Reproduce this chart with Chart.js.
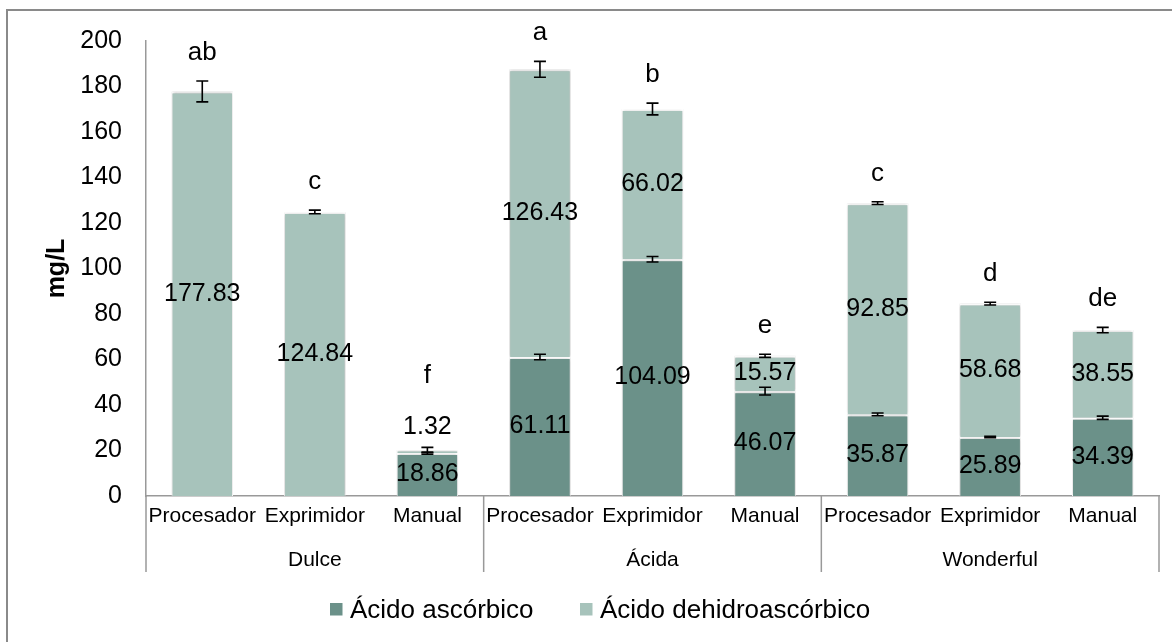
<!DOCTYPE html>
<html>
<head>
<meta charset="utf-8">
<script src="https://cdn.jsdelivr.net/npm/chart.js@4.4.1/dist/chart.umd.min.js"></script>
<style>
  html, body { margin: 0; padding: 0; background: #fff; }
  #c { display: block; }
</style>
</head>
<body>
<canvas id="c" width="1172" height="642"></canvas>
<script>
// Vitamin C content of pomegranate juices by variety and extraction method
const varieties = ['Dulce', 'Ácida', 'Wonderful'];
const methods = ['Procesador', 'Exprimidor', 'Manual'];
const seriesNames = ['Ácido ascórbico', 'Ácido dehidroascórbico'];

// mg/L, one value per variety × method
const ascorbic = [0, 0, 18.86, 61.11, 104.09, 46.07, 35.87, 25.89, 34.39];
const dehydroascorbic = [177.83, 124.84, 1.32, 126.43, 66.02, 15.57, 92.85, 58.68, 38.55];

// standard deviations: of ascorbic acid and of the total
const ascorbicErr = [0, 0, 0.5, 1.2, 1.2, 1.7, 0.6, 0.3, 0.7];
const totalErr = [4.6, 0.8, 1.2, 3.5, 2.6, 0.7, 0.6, 0.6, 1.2];

// significance groups (Tukey)
const letters = ['ab', 'c', 'f', 'a', 'b', 'e', 'c', 'd', 'de'];

const yMin = 0, yMax = 200, yStep = 20;

const labels = varieties.flatMap(() => methods);
const colors = ['#6b9189', '#a7c3bb'];
const FONT = '"Liberation Sans", Arial, sans-serif';

// frame + white background
const framePlugin = {
  id: 'frame',
  beforeDraw(chart) {
    const ctx = chart.ctx;
    ctx.save();
    ctx.fillStyle = '#fff';
    ctx.fillRect(0, 0, chart.width, chart.height);
    ctx.strokeStyle = '#8a8a8a';
    ctx.lineWidth = 2;
    ctx.beginPath();
    ctx.moveTo(7, chart.height);
    ctx.lineTo(7, 10);
    ctx.lineTo(chart.width, 10);
    ctx.stroke();
    ctx.restore();
  }
};

// soft shadow behind the bars
const shadowPlugin = {
  id: 'barShadow',
  beforeDatasetsDraw(chart) {
    const ctx = chart.ctx;
    ctx.save();
    ctx.shadowColor = 'rgba(0,0,0,0.28)';
    ctx.shadowBlur = 3;
  },
  afterDatasetsDraw(chart) {
    chart.ctx.restore();
  }
};

// value labels, error bars and significance letters
const annotatePlugin = {
  id: 'annotate',
  afterDatasetsDraw(chart) {
    const ctx = chart.ctx;
    const x = chart.scales.x, y = chart.scales.y;
    const raised = [];
    ctx.save();

    // value labels centred in each segment
    ctx.fillStyle = '#000';
    ctx.font = '25px ' + FONT;
    ctx.textAlign = 'center';
    ctx.textBaseline = 'middle';
    const series = [ascorbic, dehydroascorbic];
    for (let i = 0; i < labels.length; i++) {
      let base = 0;
      series.forEach(vals => {
        const v = vals[i];
        if (v > 0) {
          const y0 = y.getPixelForValue(base), y1 = y.getPixelForValue(base + v);
          const px = x.getPixelForValue(i);
          if (y0 - y1 < 20) {
            const ly = y1 - 23;
            ctx.fillText(v.toFixed(2), px, ly);
            raised[i] = ly;
          } else {
            ctx.fillText(v.toFixed(2), px, (y0 + y1) / 2);
          }
        }
        base += v;
      });
    }

    // error bars
    ctx.strokeStyle = '#000';
    ctx.lineWidth = 1.6;
    const cap = 6;
    const errBar = (px, v, e) => {
      const yt = y.getPixelForValue(v + e), yb = y.getPixelForValue(v - e);
      ctx.beginPath();
      ctx.moveTo(px, yt); ctx.lineTo(px, yb);
      ctx.moveTo(px - cap, yt); ctx.lineTo(px + cap, yt);
      ctx.moveTo(px - cap, yb); ctx.lineTo(px + cap, yb);
      ctx.stroke();
    };
    for (let i = 0; i < labels.length; i++) {
      const px = x.getPixelForValue(i);
      if (ascorbic[i] > 0) errBar(px, ascorbic[i], ascorbicErr[i]);
      errBar(px, ascorbic[i] + dehydroascorbic[i], totalErr[i]);
    }

    // significance letters above each column
    ctx.font = '26px ' + FONT;
    ctx.textBaseline = 'alphabetic';
    for (let i = 0; i < labels.length; i++) {
      const px = x.getPixelForValue(i);
      let by = y.getPixelForValue(ascorbic[i] + dehydroascorbic[i] + totalErr[i]) - 21;
      if (raised[i] !== undefined) by = Math.min(by, raised[i] - 44);
      ctx.fillText(letters[i], px, by);
    }
    ctx.restore();
  },
  afterDraw(chart) {
    const ctx = chart.ctx;
    const x = chart.scales.x;
    const axisY = chart.chartArea.bottom;
    ctx.save();

    // group separators and variety names under the method labels
    ctx.strokeStyle = '#999';
    ctx.lineWidth = 1.5;
    ctx.beginPath();
    for (let g = 0; g <= varieties.length; g++) {
      const px = x.getPixelForValue(g * methods.length - 0.5);
      ctx.moveTo(px, axisY);
      ctx.lineTo(px, axisY + 76);
    }
    ctx.stroke();
    ctx.fillStyle = '#000';
    ctx.font = '21px ' + FONT;
    ctx.textAlign = 'center';
    ctx.textBaseline = 'middle';
    varieties.forEach((v, g) => {
      ctx.fillText(v, x.getPixelForValue(g * methods.length + 1), axisY + 64);
    });

    // y axis title
    ctx.save();
    ctx.translate(57, (chart.chartArea.top + chart.chartArea.bottom) / 2);
    ctx.rotate(-Math.PI / 2);
    ctx.font = 'bold 25px ' + FONT;
    ctx.fillText('mg/L', 0, 0);
    ctx.restore();

    // legend
    ctx.textAlign = 'left';
    ctx.textBaseline = 'alphabetic';
    ctx.font = '26px ' + FONT;
    const items = [{ bx: 330, tx: 350 }, { bx: 580, tx: 600 }];
    items.forEach((it, k) => {
      ctx.fillStyle = colors[k];
      ctx.fillRect(it.bx, 603, 12.5, 12.5);
      ctx.fillStyle = '#000';
      ctx.fillText(seriesNames[k], it.tx, 618);
    });
    ctx.restore();
  }
};

new Chart(document.getElementById('c'), {
  type: 'bar',
  data: {
    labels: labels,
    datasets: [
      { label: seriesNames[0], data: ascorbic, backgroundColor: colors[0],
        borderColor: '#fff', borderWidth: { top: 2, left: 1, right: 1, bottom: 0 }, borderSkipped: false },
      { label: seriesNames[1], data: dehydroascorbic, backgroundColor: colors[1],
        borderColor: '#fff', borderWidth: { top: 2, left: 1, right: 1, bottom: 0 }, borderSkipped: false }
    ]
  },
  options: {
    responsive: false,
    animation: false,
    devicePixelRatio: 1,
    layout: { padding: { top: 41, right: 13, bottom: 0, left: 0 } },
    plugins: { legend: { display: false }, tooltip: { enabled: false } },
    datasets: { bar: { categoryPercentage: 0.546, barPercentage: 1 } },
    scales: {
      x: {
        stacked: true,
        grid: { display: false, drawTicks: false },
        border: { display: true, color: '#999', width: 1.5 },
        ticks: { color: '#000', font: { family: FONT, size: 21 }, padding: 8, maxRotation: 0, autoSkip: false },
        afterFit(scale) { scale.height = 146; }
      },
      y: {
        stacked: true,
        min: yMin, max: yMax,
        grid: { display: false, drawTicks: false },
        border: { display: true, color: '#999', width: 1.5 },
        ticks: { stepSize: yStep, color: '#000', font: { family: FONT, size: 25 }, padding: 24 },
        afterFit(scale) { scale.width = 146; }
      }
    }
  },
  plugins: [framePlugin, shadowPlugin, annotatePlugin]
});
</script>
</body>
</html>
